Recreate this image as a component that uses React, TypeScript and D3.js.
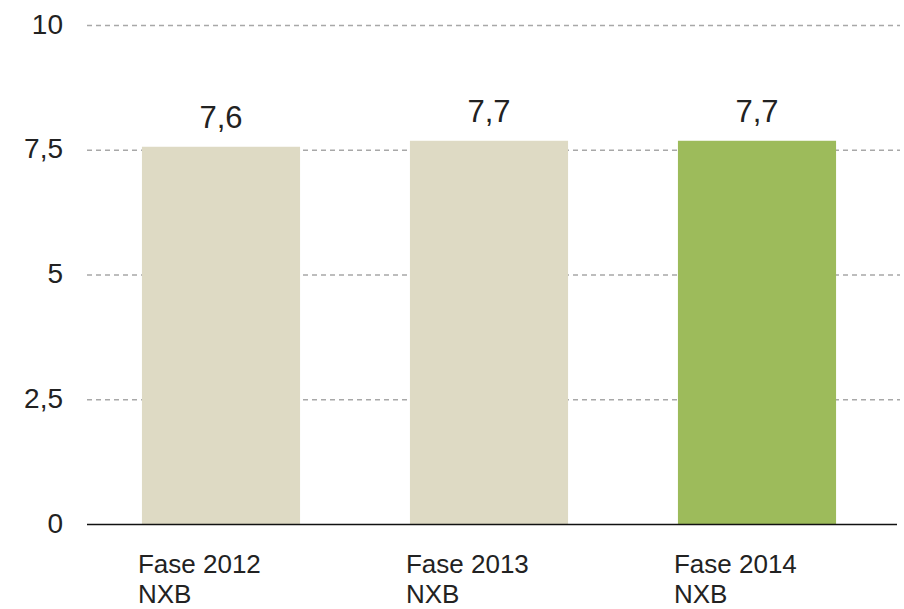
import React from "react";
import * as d3 from "d3";

const categories = ["Fase 2012", "Fase 2013", "Fase 2014"];
const subLabels = ["NXB", "NXB", "NXB"];
const values = [7.57, 7.69, 7.69];
const barColors = ["#DEDAC4", "#DEDAC4", "#9DBB5B"];
const yTicks = [0, 2.5, 5, 7.5, 10];

const W = 904;
const H = 609;
const FONT = "'Liberation Sans', Arial, Helvetica, sans-serif";
const fmt = (v: number) => d3.format(".1f")(v).replace(".", ",");
const fmtTick = (v: number) => String(v).replace(".", ",");

export default function App() {
  const y = d3.scaleLinear().domain([0, 10]).range([524.5, 25.5]);
  const x = d3
    .scaleBand<string>()
    .domain(categories)
    .range([87, 891])
    .paddingInner(0.41)
    .paddingOuter(0.205);
  const left = 87;
  const right = 900;

  return (
    <svg
      width={W}
      height={H}
      style={{ position: "absolute", left: 0, top: 0, background: "#fff" }}
      fontFamily={FONT}
    >
      {yTicks.map((t) => (
        <g key={t}>
          {t !== 0 && (
            <line
              x1={left}
              x2={right}
              y1={y(t)}
              y2={y(t)}
              stroke="#a8a8a8"
              strokeWidth={1.3}
              strokeDasharray="5,4"
            />
          )}
          <text
            x={63}
            y={y(t) + 8}
            textAnchor="end"
            fontSize={28}
            fill="#222"
          >
            {fmtTick(t)}
          </text>
        </g>
      ))}
      {categories.map((c, i) => (
        <g key={c}>
          <rect
            x={x(c)}
            y={y(values[i])}
            width={x.bandwidth()}
            height={y(0) - y(values[i])}
            fill={barColors[i]}
          />
          <text
            x={(x(c) as number) + x.bandwidth() / 2}
            y={y(values[i]) - 18.5}
            textAnchor="middle"
            fontSize={31}
            fill="#222"
          >
            {fmt(values[i])}
          </text>
          <text x={(x(c) as number) - 4} y={573} fontSize={26} fill="#222">
            {c}
          </text>
          <text x={(x(c) as number) - 4} y={603} fontSize={26} fill="#222">
            {subLabels[i]}
          </text>
        </g>
      ))}
      <line
        x1={left}
        x2={897}
        y1={y(0)}
        y2={y(0)}
        stroke="#111"
        strokeWidth={1.6}
      />
    </svg>
  );
}
